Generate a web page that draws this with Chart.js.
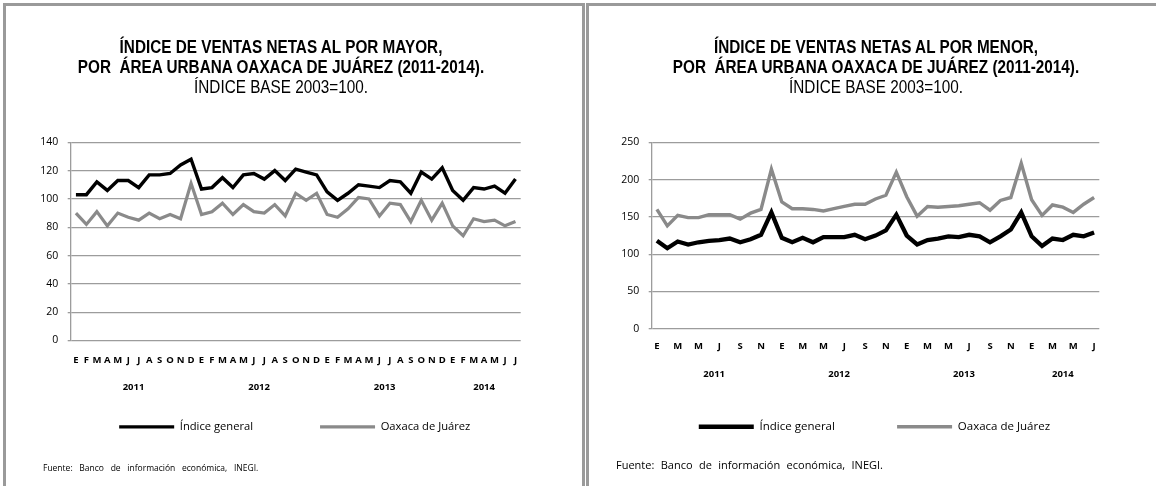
<!DOCTYPE html>
<html><head><meta charset="utf-8">
<script src="https://cdn.jsdelivr.net/npm/chart.js@4"></script>
<style>
html,body{margin:0;padding:0;background:#fff;width:1156px;height:486px;overflow:hidden;position:relative}
.panel{position:absolute;top:3px;box-sizing:border-box;border:3px solid #9a9a9a;height:520px;background:#fff}
#p1{left:3px;width:582px}
#p2{left:586px;width:600px}
canvas{position:absolute;top:6px}
#c1{left:6px}
#c2{left:589px}
.title{position:absolute;top:36.5px;width:500px;text-align:center;font-family:"Liberation Sans",Arial,sans-serif;font-size:18px;line-height:20px;color:#000;white-space:nowrap;transform:scaleX(0.85);transform-origin:50% 0}
.title .b{font-weight:bold}
.src{position:absolute;font-family:"Open Sans",sans-serif;color:#000;white-space:nowrap}
</style></head>
<body>
<div class="panel" id="p1"></div>
<div class="panel" id="p2"></div>
<canvas id="c1" width="576" height="480"></canvas>
<canvas id="c2" width="567" height="480"></canvas>
<div class="title" style="left:31px"><div class="b">ÍNDICE DE VENTAS NETAS AL POR MAYOR,</div><div class="b">POR&nbsp; ÁREA URBANA OAXACA DE JUÁREZ (2011-2014).</div><div>ÍNDICE BASE 2003=100.</div></div>
<div class="title" style="left:626px"><div class="b">ÍNDICE DE VENTAS NETAS AL POR MENOR,</div><div class="b">POR&nbsp; ÁREA URBANA OAXACA DE JUÁREZ (2011-2014).</div><div>ÍNDICE BASE 2003=100.</div></div>
<div class="src" style="left:43px;top:462px;font-size:8.5px;word-spacing:4.5px">Fuente: Banco de información económica, INEGI.</div>
<div class="src" style="left:616px;top:457px;font-size:11px;word-spacing:3.5px">Fuente: Banco de información económica, INEGI.</div>
<script>
const months = ['E','F','M','A','M','J','J','A','S','O','N','D',
                'E','F','M','A','M','J','J','A','S','O','N','D',
                'E','F','M','A','M','J','J','A','S','O','N','D',
                'E','F','M','A','M','J','J'];
const years = ['2011','2012','2013','2014'];
const monthsPerYear = [12,12,12,7];
const seriesNames = ['Índice general','Oaxaca de Juárez'];

const mayorGeneral = [103,103,112,106,113,113,108,117,117,118,124,128,
                      107,108,115,108,117,118,114,120,113,121,119,117,
                      105,99,104,110,109,108,113,112,104,119,114,122,
                      106,99,108,107,109,104,114];
const mayorOaxaca  = [90,82,91,81,90,87,85,90,86,89,86,111,
                      89,91,97,89,96,91,90,96,88,104,99,104,
                      89,87,93,101,100,88,97,96,84,99,85,97,
                      81,74,86,84,85,81,84];
const menorGeneral = [118,108,117,113,116,118,119,121,116,120,126,156,
                      122,116,122,116,123,123,123,126,120,125,132,153,
                      125,113,119,121,124,123,126,124,116,124,133,156,
                      124,111,121,119,126,124,129];
const menorOaxaca  = [160,138,152,149,149,153,153,153,147,155,160,214,
                      170,161,161,160,158,161,164,167,167,174,179,210,
                      177,151,164,163,164,165,167,169,159,172,176,222,
                      173,152,166,163,156,167,176];
const mayorYTicks = [0,20,40,60,80,100,120,140];
const menorYTicks = [0,50,100,150,200,250];

function yearCenters(){ let s=0; return monthsPerYear.map(n=>{const c=s+(n-1)/2; s+=n; return c;}); }
const centers = yearCenters();
const FONT = "'Open Sans','DejaVu Sans',sans-serif";

function build(id, general, oaxaca, yTicks, g){
  return new Chart(document.getElementById(id), {
    type:'line',
    data:{ labels: months, datasets:[
      {label: seriesNames[0], data: general, borderColor:'#000', backgroundColor:'#000', borderWidth:g.w1, pointRadius:0, tension:0, yAxisID:'y', xAxisID:'x'},
      {label: seriesNames[1], data: oaxaca, borderColor:'#8a8a8a', backgroundColor:'#8a8a8a', borderWidth:g.w2, pointRadius:0, tension:0, yAxisID:'y', xAxisID:'x'}
    ]},
    options:{
      responsive:false, animation:false, devicePixelRatio:1, events:[],
      layout:{padding:{left:g.padL, right:g.padR, top:g.top, bottom:g.padB}},
      plugins:{
        title:{display:false}, tooltip:{enabled:false},
        legend:{position:'bottom', labels:{usePointStyle:true, pointStyle:'line', pointStyleWidth:g.sampleW, padding:g.legendGap, color:'#000', font:{family:FONT, size:g.legendFs},
          generateLabels:(chart)=>{
            const items = Chart.defaults.plugins.legend.labels.generateLabels(chart);
            items[0].text += '\u2002'.repeat(g.trail);
            return items;
          }}}
      },
      scales:{
        x:{type:'category', offset:true, position:'bottom', weight:1,
           grid:{display:false, drawTicks:false}, border:{display:false},
           ticks:{autoSkip:false, maxRotation:0, minRotation:0, padding:g.monthPad, color:'#000', font:{family:FONT, size:9.5, weight:'bold'},
                  callback:(v,i)=> (i % g.every === 0 ? months[i] : '')},
           afterFit:s=>{s.height=g.hx;}},
        x2:{type:'linear', position:'bottom', weight:2, min:-0.5, max:months.length-0.5,
            grid:{display:false, drawTicks:false}, border:{display:false},
            afterBuildTicks:s=>{s.ticks=centers.map(v=>({value:v}));},
            ticks:{autoSkip:false, maxRotation:0, minRotation:0, padding:g.yearPad, color:'#000', font:{family:FONT, size:9.5, weight:'bold'},
                   callback:(v)=>{const k=centers.indexOf(v); return k>=0?years[k]:'';}},
            afterFit:s=>{s.height=g.h2;}},
        y:{type:'linear', position:'left', min:yTicks[0], max:yTicks[yTicks.length-1],
           grid:{color:'#9c9c9c', lineWidth:1.3, tickLength:3}, border:{color:'#9c9c9c', width:1.3},
           ticks:{stepSize:yTicks[1]-yTicks[0], padding:9.5, color:'#000', font:{family:FONT, size:10.5}},
           afterFit:s=>{s.width=g.yw;}},
        yR:{type:'linear', position:'right', display:true, grid:{display:false, drawTicks:false}, border:{display:false}, ticks:{display:false},
            afterFit:s=>{s.width=g.rw;}}
      }
    }
  });
}

build('c1', mayorGeneral, mayorOaxaca, mayorYTicks,
  {w1:3.4, w2:3.2, padL:1.5, padR:0, top:136.3, padB:43.5, yw:63.2, rw:61.3, hx:27, h2:26, monthPad:13.6, yearPad:13.6, legendGap:27.8, legendFs:11.2, trail:7, sampleW:55, every:1});
build('c2', menorGeneral, menorOaxaca, menorYTicks,
  {w1:4.3, w2:3.4, padL:3.8, padR:0, top:136.3, padB:43.5, yw:58.9, rw:56.7, hx:24, h2:29, monthPad:12, yearPad:16, legendGap:39.2, legendFs:11.5, trail:4, sampleW:55, every:2});
</script>
</body></html>
